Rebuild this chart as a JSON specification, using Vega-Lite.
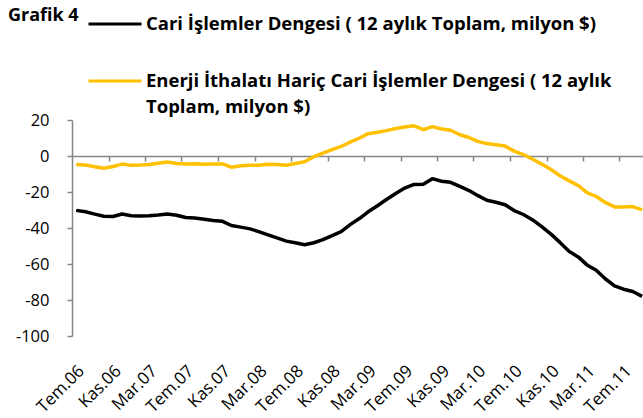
{
  "$schema": "https://vega.github.io/schema/vega-lite/v6.json",
  "width": 571,
  "height": 216,
  "autosize": "none",
  "padding": {"left": 72, "top": 120, "right": 0, "bottom": 82},
  "background": "white",
  "title": {
    "text": "Grafik 4",
    "anchor": "start",
    "frame": "group",
    "orient": "top",
    "font": "Open Sans",
    "fontSize": 18,
    "fontWeight": "bold",
    "color": "black",
    "dx": -64,
    "offset": -29
  },
  "data": {
    "values": [
      {"date": "2006-07-15", "cari": -30.2, "enerji": -4.7},
      {"date": "2006-08-15", "cari": -31.0, "enerji": -5.0},
      {"date": "2006-09-15", "cari": -32.3, "enerji": -6.0},
      {"date": "2006-10-15", "cari": -33.5, "enerji": -6.8},
      {"date": "2006-11-15", "cari": -33.6, "enerji": -5.8},
      {"date": "2006-12-15", "cari": -32.2, "enerji": -4.5},
      {"date": "2007-01-15", "cari": -33.2, "enerji": -5.2},
      {"date": "2007-02-15", "cari": -33.3, "enerji": -5.0},
      {"date": "2007-03-15", "cari": -33.2, "enerji": -4.7},
      {"date": "2007-04-15", "cari": -32.8, "enerji": -4.0},
      {"date": "2007-05-15", "cari": -32.2, "enerji": -3.3},
      {"date": "2007-06-15", "cari": -32.9, "enerji": -4.2},
      {"date": "2007-07-15", "cari": -34.2, "enerji": -4.4},
      {"date": "2007-08-15", "cari": -34.5, "enerji": -4.3},
      {"date": "2007-09-15", "cari": -35.1, "enerji": -4.6},
      {"date": "2007-10-15", "cari": -35.8, "enerji": -4.5},
      {"date": "2007-11-15", "cari": -36.3, "enerji": -4.4},
      {"date": "2007-12-15", "cari": -38.6, "enerji": -6.2},
      {"date": "2008-01-15", "cari": -39.5, "enerji": -5.4},
      {"date": "2008-02-15", "cari": -40.5, "enerji": -5.1},
      {"date": "2008-03-15", "cari": -42.0, "enerji": -5.1},
      {"date": "2008-04-15", "cari": -43.8, "enerji": -4.6},
      {"date": "2008-05-15", "cari": -45.5, "enerji": -4.7},
      {"date": "2008-06-15", "cari": -47.3, "enerji": -5.1},
      {"date": "2008-07-15", "cari": -48.2, "enerji": -4.2},
      {"date": "2008-08-15", "cari": -49.3, "enerji": -3.2},
      {"date": "2008-09-15", "cari": -48.2, "enerji": -0.4},
      {"date": "2008-10-15", "cari": -46.5, "enerji": 1.6},
      {"date": "2008-11-15", "cari": -44.2, "enerji": 3.5},
      {"date": "2008-12-15", "cari": -42.0, "enerji": 5.3},
      {"date": "2009-01-15", "cari": -38.0, "enerji": 7.8},
      {"date": "2009-02-15", "cari": -34.6, "enerji": 10.0},
      {"date": "2009-03-15", "cari": -31.0, "enerji": 12.4},
      {"date": "2009-04-15", "cari": -27.6, "enerji": 13.2},
      {"date": "2009-05-15", "cari": -24.2, "enerji": 14.1},
      {"date": "2009-06-15", "cari": -20.8, "enerji": 15.3},
      {"date": "2009-07-15", "cari": -17.8, "enerji": 16.1},
      {"date": "2009-08-15", "cari": -15.8, "enerji": 16.8},
      {"date": "2009-09-15", "cari": -15.7, "enerji": 14.6},
      {"date": "2009-10-15", "cari": -12.6, "enerji": 16.3},
      {"date": "2009-11-15", "cari": -14.0, "enerji": 15.0},
      {"date": "2009-12-15", "cari": -14.6, "enerji": 14.3},
      {"date": "2010-01-15", "cari": -16.9, "enerji": 11.8},
      {"date": "2010-02-15", "cari": -19.2, "enerji": 10.3},
      {"date": "2010-03-15", "cari": -21.9, "enerji": 8.1},
      {"date": "2010-04-15", "cari": -24.6, "enerji": 6.9},
      {"date": "2010-05-15", "cari": -25.7, "enerji": 6.3},
      {"date": "2010-06-15", "cari": -27.1, "enerji": 5.5},
      {"date": "2010-07-15", "cari": -30.3, "enerji": 2.7},
      {"date": "2010-08-15", "cari": -32.5, "enerji": 0.8},
      {"date": "2010-09-15", "cari": -35.5, "enerji": -1.8},
      {"date": "2010-10-15", "cari": -39.2, "enerji": -4.5},
      {"date": "2010-11-15", "cari": -43.4, "enerji": -7.5},
      {"date": "2010-12-15", "cari": -48.0, "enerji": -11.0},
      {"date": "2011-01-15", "cari": -53.0, "enerji": -13.8},
      {"date": "2011-02-15", "cari": -56.2, "enerji": -16.5},
      {"date": "2011-03-15", "cari": -60.5, "enerji": -20.3},
      {"date": "2011-04-15", "cari": -63.5, "enerji": -22.5},
      {"date": "2011-05-15", "cari": -68.2, "enerji": -25.8},
      {"date": "2011-06-15", "cari": -72.1, "enerji": -28.3},
      {"date": "2011-07-15", "cari": -74.0, "enerji": -28.3},
      {"date": "2011-08-15", "cari": -75.3, "enerji": -28.1},
      {"date": "2011-09-15", "cari": -78.0, "enerji": -29.9}
    ]
  },
  "layer": [
    {
      "transform": [{"fold": ["cari", "enerji"], "as": ["series", "value"]}],
      "mark": {"type": "line", "strokeWidth": 3.5, "strokeJoin": "round"},
      "encoding": {
        "x": {
          "field": "date",
          "type": "temporal",
          "scale": {"domain": [{"year": 2006, "month": 7, "date": 1}, {"year": 2011, "month": 9, "date": 18}]},
          "axis": {
            "orient": "bottom",
            "offset": -180,
            "title": null,
            "labels": false,
            "grid": false,
            "domainColor": "#868686",
            "domainWidth": 1.5,
            "tickColor": "#868686",
            "tickWidth": 1.5,
            "tickSize": 5,
            "values": [
              {"year": 2006, "month": 11, "date": 1},
              {"year": 2007, "month": 3, "date": 1},
              {"year": 2007, "month": 7, "date": 1},
              {"year": 2007, "month": 11, "date": 1},
              {"year": 2008, "month": 3, "date": 1},
              {"year": 2008, "month": 7, "date": 1},
              {"year": 2008, "month": 11, "date": 1},
              {"year": 2009, "month": 3, "date": 1},
              {"year": 2009, "month": 7, "date": 1},
              {"year": 2009, "month": 11, "date": 1},
              {"year": 2010, "month": 3, "date": 1},
              {"year": 2010, "month": 7, "date": 1},
              {"year": 2010, "month": 11, "date": 1},
              {"year": 2011, "month": 3, "date": 1},
              {"year": 2011, "month": 7, "date": 1}
            ]
          }
        },
        "y": {
          "field": "value",
          "type": "quantitative",
          "scale": {"domain": [-100, 20], "nice": false, "zero": false},
          "axis": {
            "title": null,
            "grid": false,
            "values": [-100, -80, -60, -40, -20, 0, 20],
            "labelExpr": "'' + datum.value",
            "domainColor": "#868686",
            "domainWidth": 1.5,
            "tickColor": "#868686",
            "tickWidth": 1.5,
            "tickSize": 5,
            "labelPadding": 18,
            "labelFont": "Open Sans",
            "labelFontSize": 16.5,
            "labelColor": "black"
          }
        },
        "color": {
          "field": "series",
          "type": "nominal",
          "scale": {"domain": ["cari", "enerji"], "range": ["#000000", "#FFC000"]},
          "legend": {
            "orient": "none",
            "legendX": 15,
            "legendY": -124,
            "title": null,
            "symbolType": "stroke",
            "symbolSize": 2809,
            "symbolStrokeWidth": 3,
            "labelFont": "Open Sans",
            "labelFontSize": 18.5,
            "labelFontWeight": "bold",
            "labelColor": "black",
            "labelLimit": 700,
            "labelOffset": 3,
            "rowPadding": 19,
            "labelExpr": "datum.value == 'cari' ? 'Cari İşlemler Dengesi ( 12 aylık Toplam, milyon $)' : ['Enerji İthalatı Hariç Cari İşlemler Dengesi ( 12 aylık', 'Toplam, milyon $)']",
            "encode": {
              "labels": {
                "update": {
                  "lineHeight": {"value": 26}
                }
              }
            }
          }
        }
      }
    },
    {
      "mark": {"type": "point", "opacity": 0},
      "encoding": {
        "x": {
          "field": "date",
          "type": "temporal",
          "axis": {
            "orient": "bottom",
            "title": null,
            "domain": false,
            "ticks": false,
            "grid": false,
            "labelAngle": -45,
            "labelAlign": "right",
            "labelBaseline": "middle",
            "labelPadding": 32,
            "labelOffset": 5,
            "labelFont": "Open Sans",
            "labelFontSize": 17,
            "labelColor": "black",
            "labelOverlap": false,
            "labelBound": false,
            "labelFlush": false,
            "labelExpr": "(['Oca','Şub','Mar','Nis','May','Haz','Tem','Ağu','Eyl','Eki','Kas','Ara'])[month(datum.value)] + '.' + timeFormat(datum.value, '%y')",
            "values": [
              {"year": 2006, "month": 7, "date": 15},
              {"year": 2006, "month": 11, "date": 15},
              {"year": 2007, "month": 3, "date": 15},
              {"year": 2007, "month": 7, "date": 15},
              {"year": 2007, "month": 11, "date": 15},
              {"year": 2008, "month": 3, "date": 15},
              {"year": 2008, "month": 7, "date": 15},
              {"year": 2008, "month": 11, "date": 15},
              {"year": 2009, "month": 3, "date": 15},
              {"year": 2009, "month": 7, "date": 15},
              {"year": 2009, "month": 11, "date": 15},
              {"year": 2010, "month": 3, "date": 15},
              {"year": 2010, "month": 7, "date": 15},
              {"year": 2010, "month": 11, "date": 15},
              {"year": 2011, "month": 3, "date": 15},
              {"year": 2011, "month": 7, "date": 15}
            ]
          }
        }
      }
    }
  ],
  "resolve": {"axis": {"x": "independent"}},
  "config": {"view": {"stroke": null}}
}
